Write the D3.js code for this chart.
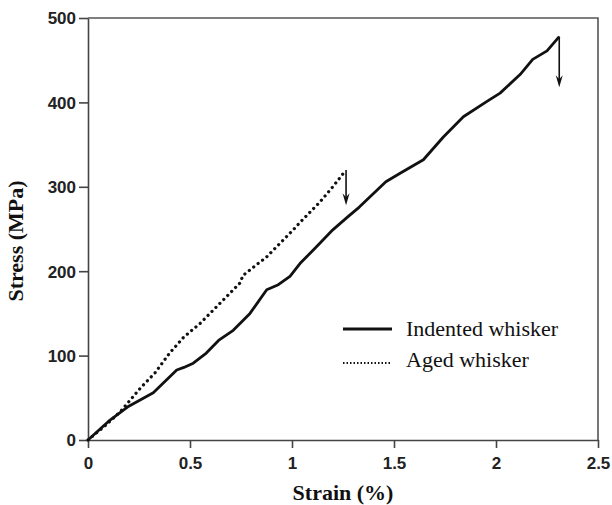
<!DOCTYPE html>
<html lang="en">
<head>
<meta charset="utf-8">
<title>Stress-strain</title>
<script src="https://cdn.jsdelivr.net/npm/d3@7"></script>
<style>
    body { margin: 0; background: #fff; }
    .tick text { font-family: "Liberation Sans", Arial, sans-serif; font-weight: bold; font-size: 17px; fill: #222; }
    .axis path, .axis line { stroke: #444; stroke-width: 1.6px; }
    .title { font-family: "Liberation Serif", "Times New Roman", serif; font-weight: bold; font-size: 22px; fill: #111; }
    .leg { font-family: "Liberation Serif", "Times New Roman", serif; font-size: 22px; fill: #111; }
</style>
</head>
<body>
<svg id="chart"></svg>
<script>
    // indented whisker (solid), strain % / stress MPa
    var indentStrain = [0, 0.1, 0.2, 0.32, 0.435, 0.47, 0.516, 0.58, 0.64, 0.712, 0.794, 0.876, 0.933, 0.99, 1.039, 1.12, 1.2, 1.276, 1.33, 1.46, 1.53, 1.644, 1.742, 1.84, 1.954, 2.02, 2.118, 2.18, 2.25, 2.31];
    var indentStress = [0, 22, 40, 56, 83, 86, 91, 103, 118, 130, 150, 178, 184, 194, 209, 229, 249, 265, 276, 306, 316, 332, 359, 383, 401, 411, 433, 451, 461, 478];

    // aged whisker (dotted)
    var agedStrain = [0, 0.08, 0.16, 0.255, 0.33, 0.4, 0.47, 0.549, 0.647, 0.745, 0.76, 0.876, 1.006, 1.04, 1.137, 1.2, 1.265];
    var agedStress = [0, 16, 34, 61, 80, 103, 122, 138, 162, 186, 195, 217, 249, 258, 282, 300, 320];

    // fracture arrows: strain, top stress, tip stress
    var arrowStrain = [2.31, 1.265];
    var arrowTop = [478, 320];
    var arrowTip = [418, 278];

    var xTicks = [0, 0.5, 1, 1.5, 2, 2.5];
    var yTicks = [0, 100, 200, 300, 400, 500];
    var legendNames = ["Indented whisker", "Aged whisker"];

    var W = 612, H = 505;
    var margin = {top: 18, right: 14, bottom: 65, left: 88};
    var iw = W - margin.left - margin.right,
        ih = H - margin.top - margin.bottom;

    var svg = d3.select("#chart").attr("width", W).attr("height", H);
    var g = svg.append("g").attr("transform", "translate(" + margin.left + "," + margin.top + ")");

    var x = d3.scaleLinear().domain([0, 2.5]).range([0, iw]);
    var y = d3.scaleLinear().domain([0, 500]).range([ih, 0]);

    // frame (top and right)
    g.append("path")
        .attr("d", "M0," + y(500) + "H" + x(2.5) + "V" + y(0))
        .attr("fill", "none")
        .attr("stroke", "#555")
        .attr("stroke-width", 1.6);

    g.append("g")
        .attr("class", "axis")
        .attr("transform", "translate(0," + ih + ")")
        .call(d3.axisBottom(x).tickValues(xTicks).tickFormat(d3.format("")).tickSize(8).tickSizeOuter(0).tickPadding(6));

    g.append("g")
        .attr("class", "axis")
        .call(d3.axisLeft(y).tickValues(yTicks).tickSize(9).tickSizeOuter(0).tickPadding(3));

    g.selectAll(".tick text").attr("dy", "0.35em");
    g.select(".axis").selectAll(".tick text").attr("dy", "0.9em");

    svg.append("text")
        .attr("class", "title")
        .attr("text-anchor", "middle")
        .attr("x", margin.left + x(1.25))
        .attr("y", 500)
        .text("Strain (%)");

    svg.append("text")
        .attr("class", "title")
        .attr("text-anchor", "middle")
        .attr("transform", "translate(23,241) rotate(-90)")
        .text("Stress (MPa)");

    var line = d3.line()
        .x(function (d) { return x(d[0]); })
        .y(function (d) { return y(d[1]); });

    var indent = d3.zip(indentStrain, indentStress);
    var aged = d3.zip(agedStrain, agedStress);

    g.append("path")
        .datum(aged)
        .attr("d", line)
        .attr("fill", "none")
        .attr("stroke", "#111")
        .attr("stroke-width", 3.2)
        .attr("stroke-linecap", "round")
        .attr("stroke-dasharray", "0.1,5.5");

    g.append("path")
        .datum(indent)
        .attr("d", line)
        .attr("fill", "none")
        .attr("stroke", "#111")
        .attr("stroke-width", 2.8)
        .attr("stroke-linejoin", "round");

    // arrows
    arrowStrain.forEach(function (s, i) {
        var ax = x(s), y0 = y(arrowTop[i]), y1 = y(arrowTip[i]);
        g.append("line")
            .attr("x1", ax).attr("x2", ax)
            .attr("y1", y0).attr("y2", y1 - 4)
            .attr("stroke", "#111")
            .attr("stroke-width", 1.6);
        g.append("path")
            .attr("d", "M" + (ax - 3.5) + "," + (y1 - 12) + "L" + ax + "," + y1 + "L" + (ax + 3.5) + "," + (y1 - 12) + "L" + ax + "," + (y1 - 8) + "Z")
            .attr("fill", "#111");
    });

    // legend
    var leg = svg.append("g");
    leg.append("line")
        .attr("x1", 343).attr("x2", 392).attr("y1", 329).attr("y2", 329)
        .attr("stroke", "#111").attr("stroke-width", 2.8);
    leg.append("line")
        .attr("x1", 343).attr("x2", 392).attr("y1", 363).attr("y2", 363)
        .attr("stroke", "#111").attr("stroke-width", 2)
        .attr("stroke-dasharray", "1.5,2");
    leg.selectAll("text.leg")
        .data(legendNames)
        .enter().append("text")
        .attr("class", "leg")
        .attr("x", 406)
        .attr("y", function (d, i) { return 336 + i * 31; })
        .text(function (d) { return d; });
</script>
</body>
</html>
